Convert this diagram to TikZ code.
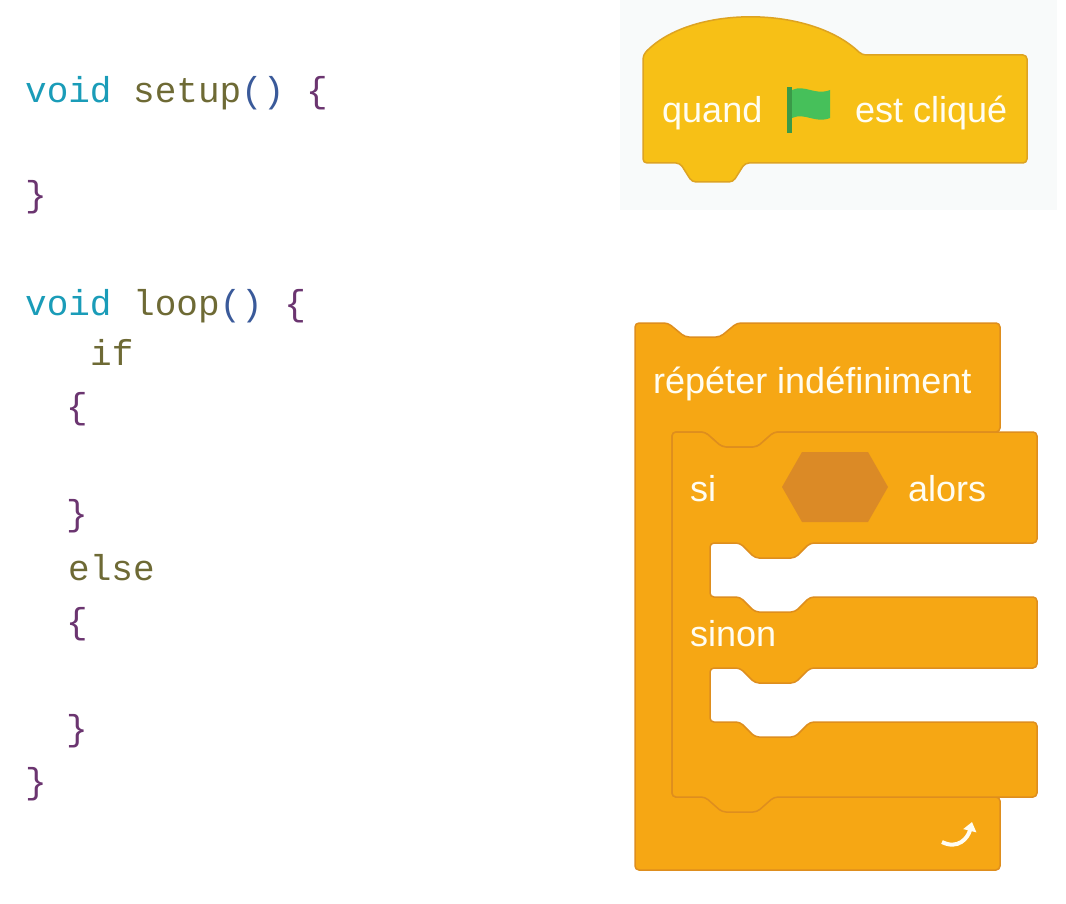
\documentclass[tikz,border=0pt]{standalone}
\usepackage{fontspec}
\setmainfont{Liberation Sans}
\newfontfamily\codefont{Liberation Mono}
\usetikzlibrary{arrows.meta}
\definecolor{kw}{HTML}{1A9CB8}
\definecolor{fn}{HTML}{6E6A35}
\definecolor{br}{HTML}{6B3570}
\definecolor{pa}{HTML}{3A5A9A}
\definecolor{evy}{HTML}{F7C016}
\definecolor{evb}{HTML}{DDA322}
\definecolor{cto}{HTML}{F6A714}
\definecolor{ctb}{HTML}{DE8E1E}
\definecolor{hexc}{HTML}{DB8A26}
\definecolor{flag}{HTML}{46C05A}
\definecolor{flagd}{HTML}{3A9A48}
\definecolor{txt}{HTML}{FFFDF2}
\definecolor{bgl}{HTML}{F8FAFA}
\tikzset{
  code/.style={anchor=base west, inner sep=0pt, font=\codefont\fontsize{36}{40}\selectfont},
  blk/.style={anchor=base west, inner sep=0pt, text=txt, font=\fontsize{36}{40}\selectfont},
  evt/.style={fill=evy, draw=evb, line width=1.5pt, rounded corners=4pt},
  ctl/.style={fill=cto, draw=ctb, line width=1.5pt, rounded corners=4pt},
}
\begin{document}
\begin{tikzpicture}[x=1pt,y=-1pt]
\useasboundingbox (0,0) rectangle (1066,904);
\fill[white] (0,0) rectangle (1066,904);
\fill[bgl] (620,0) rectangle (1057,210);
% code
\node[code] (c1) at (25,103) {\textcolor{kw}{void} \textcolor{fn}{setup}\textcolor{pa}{()} \textcolor{br}{\{}};
\node[code] (c2) at (25,207) {\textcolor{br}{\}}};
\node[code] (c3) at (25,315) {\textcolor{kw}{void} \textcolor{fn}{loop}\textcolor{pa}{()} \textcolor{br}{\{}};
\node[code] (c4) at (90,365) {\textcolor{fn}{if}};
\node[code] (c5) at (66,418) {\textcolor{br}{\{}};
\node[code] (c6) at (66,525) {\textcolor{br}{\}}};
\node[code] (c7) at (68,580) {\textcolor{fn}{else}};
\node[code] (c8) at (66,633) {\textcolor{br}{\{}};
\node[code] (c9) at (66,740) {\textcolor{br}{\}}};
\node[code] (c10) at (25,793) {\textcolor{br}{\}}};
% hat block
\draw[evt] (643,55) .. controls (690,5) and (810,5) .. (862,55) -- (1027,55) -- (1027,163) -- (745,163) -- (733,182) -- (692,182) -- (680,163) -- (643,163) -- cycle;
\node[blk] (q1) at (662,123) {quand};
\node[blk] (q2) at (855,123) {est cliqué};
\fill[flagd] (787,87) rectangle (792,133);
\fill[flag] (792,90) .. controls (805,84) and (815,96) .. (830,90) -- (830,118) .. controls (815,124) and (805,112) .. (792,118) -- cycle;
% repeat block
\draw[ctl] (635,323) -- (668,323) -- (685,337) -- (720,337) -- (737,323) -- (1000,323) -- (1000,432) -- (774,432) -- (757,447) -- (722,447) -- (705,432) -- (672,432) -- (672,797) -- (1000,797) -- (1000,870) -- (635,870) -- cycle;
% if-else block
\draw[ctl] (672,432) -- (705,432) -- (722,447) -- (757,447) -- (774,432) -- (1037,432) -- (1037,543) -- (810,543) -- (795,558) -- (755,558) -- (740,543) -- (710,543) -- (710,597) -- (740,597) -- (755,612) -- (795,612) -- (810,597) -- (1037,597) -- (1037,668) -- (810,668) -- (795,683) -- (755,683) -- (740,668) -- (710,668) -- (710,722) -- (740,722) -- (755,737) -- (795,737) -- (810,722) -- (1037,722) -- (1037,797) -- (774,797) -- (757,812) -- (722,812) -- (705,797) -- (672,797) -- cycle;
\fill[hexc] (782,487) -- (802,452) -- (868,452) -- (888,487) -- (868,522) -- (802,522) -- cycle;
\node[blk] (r1) at (653,393) {répéter indéfiniment};
\node[blk] (s1) at (690,501) {si};
\node[blk] (s2) at (908,501) {alors};
\node[blk] (s3) at (690,646) {sinon};
\coordinate (a1) at (942,842);
\coordinate (a2) at (972,822);
\draw[txt, line width=4pt, -{Triangle[length=9pt,width=13pt]}] (a1) .. controls (958,850) and (968,838) .. (a2);
\end{tikzpicture}
\end{document}
